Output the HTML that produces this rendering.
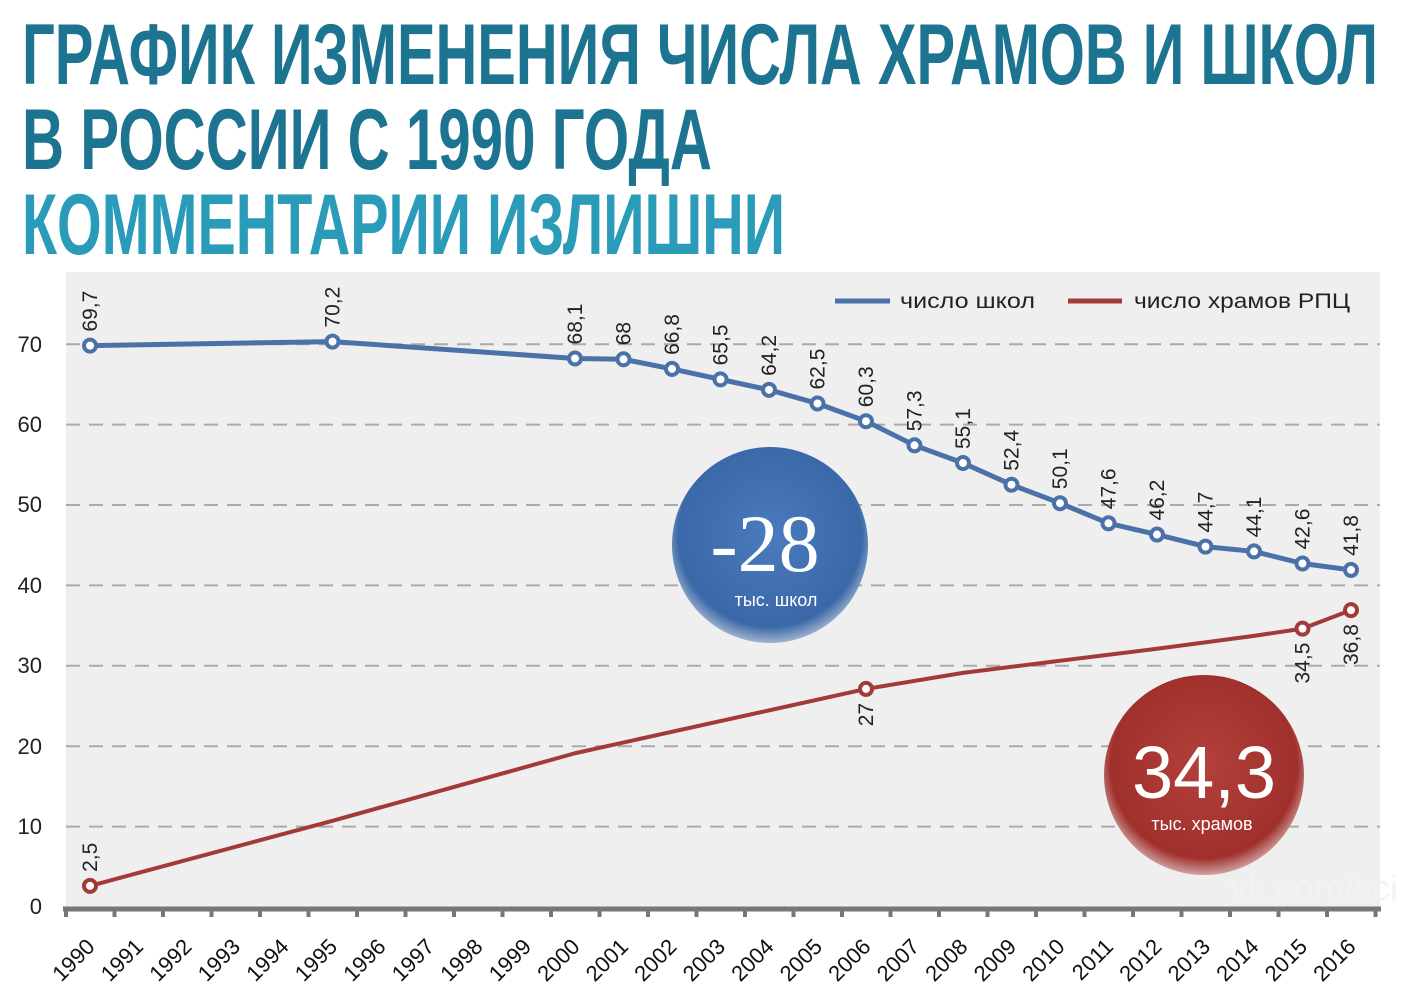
<!DOCTYPE html>
<html><head><meta charset="utf-8"><style>
html,body{margin:0;padding:0;background:#fff;}
svg{display:block;}
</style></head><body>
<svg width="1401" height="1000" viewBox="0 0 1401 1000" xmlns="http://www.w3.org/2000/svg">
<defs>
<radialGradient id="gb" cx="50%" cy="45%" r="55%"><stop offset="0" stop-color="#4a7bbd"/><stop offset="0.85" stop-color="#3a68a8"/><stop offset="1" stop-color="#9fb3cf"/></radialGradient>
<radialGradient id="gr" cx="50%" cy="45%" r="55%"><stop offset="0" stop-color="#b3403a"/><stop offset="0.85" stop-color="#a0302c"/><stop offset="1" stop-color="#cfa2a0"/></radialGradient>
</defs>
<rect width="1401" height="1000" fill="#fff"/>
<g font-family="'Liberation Sans Narrow','Liberation Sans','DejaVu Sans Condensed',sans-serif" font-weight="bold" font-size="86">
<text x="22" y="84" fill="#1d7490" textLength="1356" lengthAdjust="spacingAndGlyphs">ГРАФИК ИЗМЕНЕНИЯ ЧИСЛА ХРАМОВ И ШКОЛ</text>
<text x="22" y="169" fill="#1d7490" textLength="690" lengthAdjust="spacingAndGlyphs">В РОССИИ С 1990 ГОДА</text>
<text x="22" y="254" fill="#2a9bb8" textLength="763" lengthAdjust="spacingAndGlyphs">КОММЕНТАРИИ ИЗЛИШНИ</text>
</g>
<rect x="66" y="272" width="1314" height="636" fill="#efefef"/>
<g stroke="#aaa" stroke-width="2" stroke-dasharray="14,9">
<line x1="66" y1="826.6" x2="1380" y2="826.6"/><line x1="66" y1="746.2" x2="1380" y2="746.2"/>
<line x1="66" y1="665.8" x2="1380" y2="665.8"/><line x1="66" y1="585.4" x2="1380" y2="585.4"/>
<line x1="66" y1="505" x2="1380" y2="505"/><line x1="66" y1="424.6" x2="1380" y2="424.6"/>
<line x1="66" y1="344.2" x2="1380" y2="344.2"/>
</g>
<g font-family="'Liberation Sans',sans-serif" font-size="22" fill="#222" text-anchor="end">
<text x="42" y="914">0</text><text x="42" y="834">10</text><text x="42" y="754">20</text><text x="42" y="673">30</text><text x="42" y="593">40</text><text x="42" y="512">50</text><text x="42" y="432">60</text><text x="42" y="352">70</text>
</g>
<line x1="63" y1="909" x2="1381" y2="909" stroke="#777" stroke-width="5"/>
<g id="ticks" stroke="#777" stroke-width="4"></g>
<g id="xl" font-family="'Liberation Sans',sans-serif" font-size="22" fill="#111" text-anchor="end"></g>
<line x1="835" y1="301" x2="890" y2="301" stroke="#4a72a8" stroke-width="5"/>
<text x="900" y="308" font-family="'Liberation Sans',sans-serif" font-size="21" fill="#222" textLength="135" lengthAdjust="spacingAndGlyphs">число школ</text>
<line x1="1068" y1="301" x2="1122" y2="301" stroke="#a33a3a" stroke-width="5"/>
<text x="1134" y="308" font-family="'Liberation Sans',sans-serif" font-size="21" fill="#222" textLength="216" lengthAdjust="spacingAndGlyphs">число храмов РПЦ</text>
<g id="series"></g>
<circle cx="770" cy="545" r="98" fill="url(#gb)"/>
<text x="765" y="571" text-anchor="middle" font-family="'Liberation Serif',serif" font-size="82" fill="#fff">-28</text>
<text x="776" y="606" text-anchor="middle" font-family="'Liberation Sans',sans-serif" font-size="18" fill="#fff">тыс. школ</text>
<circle cx="1204" cy="775" r="100" fill="url(#gr)"/>
<text x="1204" y="798" text-anchor="middle" font-family="'Liberation Sans',sans-serif" font-size="74" fill="#fff">34,3</text>
<text x="1202" y="830" text-anchor="middle" font-family="'Liberation Sans',sans-serif" font-size="18" fill="#fff">тыс. храмов</text>
<text x="1230" y="900" font-family="'Liberation Sans',sans-serif" font-size="36" fill="#f2f2f2">vk.com/sci</text>
<script>
(function(){
var NS="http://www.w3.org/2000/svg";
function X(y){return 90+(y-1990)*48.5;}
function Y(v){return 906-v*8.04;}
function el(n,a,p,t){var e=document.createElementNS(NS,n);for(var k in a)e.setAttribute(k,a[k]);if(t!=null)e.textContent=t;p.appendChild(e);return e;}
var tk=document.getElementById("ticks"),xl=document.getElementById("xl"),s=document.getElementById("series");
for(var i=0;i<=27;i++){var x=66+i*48.5;el("line",{x1:x,y1:907,x2:x,y2:917},tk);}
for(var y=1990;y<=2016;y++){var x=X(y)+6,yy=948;el("text",{x:x,y:yy,transform:"rotate(-45 "+x+" "+yy+")"},xl,String(y));}
var sc=[[1990,69.7,"69,7"],[1995,70.2,"70,2"],[2000,68.1,"68,1"],[2001,68,"68"],[2002,66.8,"66,8"],[2003,65.5,"65,5"],[2004,64.2,"64,2"],[2005,62.5,"62,5"],[2006,60.3,"60,3"],[2007,57.3,"57,3"],[2008,55.1,"55,1"],[2009,52.4,"52,4"],[2010,50.1,"50,1"],[2011,47.6,"47,6"],[2012,46.2,"46,2"],[2013,44.7,"44,7"],[2014,44.1,"44,1"],[2015,42.6,"42,6"],[2016,41.8,"41,8"]];
var ch=[[1990,2.5],[1995,10.6],[2000,19],[2006,27],[2008,29],[2010,30.5],[2012,32],[2014,33.6],[2015,34.5],[2016,36.8]];
el("polyline",{points:sc.map(function(p){return X(p[0])+","+Y(p[1]);}).join(" "),fill:"none",stroke:"#4a72a8","stroke-width":5,"stroke-linejoin":"round"},s);
el("polyline",{points:ch.map(function(p){return X(p[0])+","+Y(p[1]);}).join(" "),fill:"none",stroke:"#a33a3a","stroke-width":4,"stroke-linejoin":"round"},s);
var F="'Liberation Sans',sans-serif";
sc.forEach(function(p){var x=X(p[0]),y=Y(p[1]);el("circle",{cx:x,cy:y,r:6,fill:"#fff",stroke:"#4a72a8","stroke-width":4},s);
var tx=x+7,ty=y-14;el("text",{x:tx,y:ty,transform:"rotate(-90 "+tx+" "+ty+")","font-family":F,"font-size":21,fill:"#222"},s,p[2]);});
[[1990,2.5,"2,5",1],[2006,27,"27",0],[2015,34.5,"34,5",0],[2016,36.8,"36,8",0]].forEach(function(p){var x=X(p[0]),y=Y(p[1]);
el("circle",{cx:x,cy:y,r:6,fill:"#fff",stroke:"#a33a3a","stroke-width":4},s);
var tx=x+7,ty=p[3]?y-14:y+14;el("text",{x:tx,y:ty,transform:"rotate(-90 "+tx+" "+ty+")","font-family":F,"font-size":21,fill:"#222","text-anchor":p[3]?"start":"end"},s,p[2]);});
})();
</script>
</svg>
</body></html>
